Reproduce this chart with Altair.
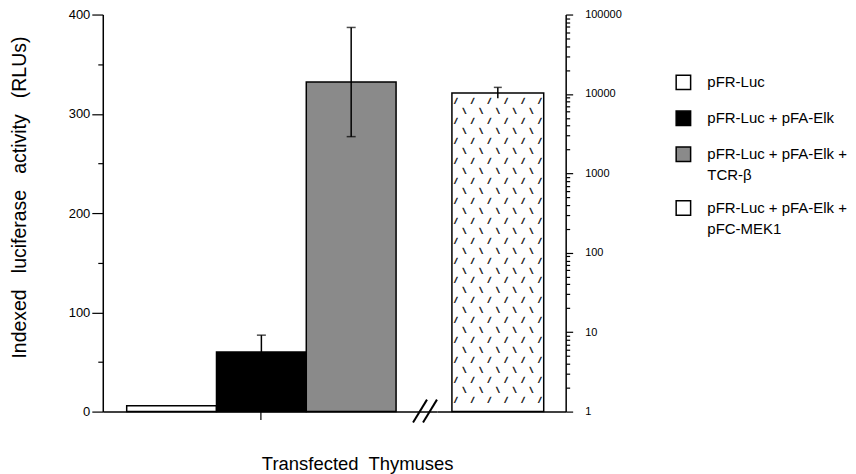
import altair as alt
import pandas as pd

# ---- data ----
categories = ["pFR-Luc", "pFR-Luc + pFA-Elk", "pFR-Luc + pFA-Elk + TCR-β", "pFR-Luc + pFA-Elk + pFC-MEK1"]
fills = ["#ffffff", "#000000", "#8a8a8a", "#ffffff"]

left_values = [6, 60, 332]          # linear axis (RLUs)
left_err_lo = [6, 43, 277]
left_err_hi = [6, 77, 387]

mek1_value = [10300]                # right (log) axis
mek1_lo = [8800]
mek1_hi = [12100]

left_ticks = [0, 50, 100, 150, 200, 250, 300, 350, 400]
log_major = [1, 10, 100, 1000, 10000, 100000]
log_ticks = [m * 10 ** d for d in range(5) for m in range(1, 10)] + [100000]

FONT = "Liberation Sans"
NB = "\u00a0"
GAP = NB + NB + " "

left_df = pd.DataFrame({
    "cat": categories[:3],
    "value": left_values,
    "lo": left_err_lo,
    "hi": left_err_hi,
})
left_err_df = left_df[left_df["hi"] > left_df["value"]]

right_df = pd.DataFrame({
    "cat": categories[3:],
    "value": mek1_value,
    "lo": mek1_lo,
    "hi": mek1_hi,
})

# texture for the hatched bar
row_a = ("/" + NB * 3) * 5 + "/"
row_b = (NB * 2 + "\\" + NB) * 5 + NB
right_df["pattern"] = "\n".join(row_a if i % 2 == 0 else row_b for i in range(31))

W1, W2, H = 335, 129, 398

color = alt.Color(
    "cat:N",
    scale=alt.Scale(domain=categories, range=fills),
    legend=alt.Legend(
        title=None,
        orient="none",
        legendX=574,
        legendY=60,
        symbolType="square",
        symbolSize=210,
        symbolStrokeColor="black",
        symbolStrokeWidth=1.5,
        labelFont=FONT,
        labelFontSize=15,
        labelColor="black",
        labelOffset=16,
        labelLimit=400,
        rowPadding=14,
        labelExpr="lastindexof(datum.label, ' + ') > 8 ? [slice(datum.label, 0, lastindexof(datum.label, ' + ') + 2), slice(datum.label, lastindexof(datum.label, ' + ') + 3)] : datum.label",
    ),
)

x_left = alt.X(
    "cat:N",
    scale=alt.Scale(domain=categories[:3], paddingInner=0, paddingOuter=0.361, align=0.369),
    axis=alt.Axis(
        values=[categories[1]],
        labels=False,
        tickSize=8,
        tickColor="black",
        tickWidth=1.2,
        domainColor="black",
        domainWidth=1.5,
        title="Transfected" + NB + " Thymuses",
        titleFont=FONT,
        titleFontSize=18.5,
        titleFontWeight="normal",
        titleColor="black",
        titleX=255,
        titleY=58,
        titleAlign="center",
        titleBaseline="alphabetic",
    ),
)

y_left_scale = alt.Scale(domain=[0, 400], nice=False)
y_left = alt.Y(
    "value:Q",
    scale=y_left_scale,
    axis=alt.Axis(
        values=left_ticks,
        labelExpr="datum.value % 100 == 0 ? datum.label : ''",
        tickSize={"condition": {"test": "datum.value % 100 == 0", "value": 11}, "value": 5},
        tickColor="black",
        tickWidth=1.2,
        domainColor="black",
        domainWidth=1.5,
        grid=False,
        labelFont=FONT,
        labelFontSize=13,
        labelColor="black",
        labelPadding=2,
        title="Indexed" + GAP + "luciferase" + GAP + "activity" + GAP + "(RLUs)",
        titleFont=FONT,
        titleFontSize=19.5,
        titleFontWeight="normal",
        titleColor="black",
        titleAngle=270,
        titleX=-83,
        titleY=183,
        titleAlign="center",
        titleBaseline="middle",
    ),
)

left_bars = alt.Chart(left_df).mark_bar(stroke="black", strokeWidth=1.5, fillOpacity=1).encode(
    x=x_left, y=y_left, color=color
)
left_stem = alt.Chart(left_err_df).mark_rule(color="black", strokeWidth=1.5).encode(
    x=alt.X("cat:N"), y=alt.Y("lo:Q", scale=y_left_scale), y2="hi:Q"
)
left_cap_hi = alt.Chart(left_err_df).mark_tick(color="black", size=9, thickness=1.5).encode(
    x=alt.X("cat:N"), y=alt.Y("hi:Q", scale=y_left_scale)
)
left_cap_lo = alt.Chart(left_err_df).mark_tick(color="black", size=9, thickness=1.5).encode(
    x=alt.X("cat:N"), y=alt.Y("lo:Q", scale=y_left_scale)
)

one = pd.DataFrame({"k": [0]})
brk1 = alt.Chart(one).mark_rule(color="black", strokeWidth=2).encode(
    x=alt.value(W1 - 24), x2=alt.value(W1 - 10), y=alt.value(H + 11), y2=alt.value(H - 12)
)
brk2 = alt.Chart(one).mark_rule(color="black", strokeWidth=2).encode(
    x=alt.value(W1 - 14), x2=alt.value(W1), y=alt.value(H + 11), y2=alt.value(H - 12)
)

left = alt.layer(left_bars, left_stem, left_cap_hi, left_cap_lo, brk1, brk2).properties(
    width=W1, height=H
)

x_right = alt.X(
    "cat:N",
    scale=alt.Scale(domain=categories[3:], paddingInner=0, paddingOuter=0.201, align=0.405),
    axis=alt.Axis(labels=False, ticks=False, domainColor="black", domainWidth=1.5, title=None),
)
y_right_scale = alt.Scale(type="log", domain=[1, 100000], nice=False)
major_test = "indexof([1, 10, 100, 1000, 10000, 100000], datum.value) >= 0"
y_right = alt.Y(
    "value:Q",
    scale=y_right_scale,
    axis=alt.Axis(
        orient="right",
        values=log_ticks,
        labelExpr=major_test + " ? format(datum.value, 'd') : ''",
        tickSize={"condition": {"test": major_test, "value": 7}, "value": 4},
        tickColor="black",
        tickWidth=1.2,
        domainColor="black",
        domainWidth=1.5,
        grid=False,
        labelFont=FONT,
        labelFontSize=11,
        labelColor="black",
        labelPadding=12,
        title=None,
    ),
)

right_bar = alt.Chart(right_df).mark_bar(stroke="black", strokeWidth=1.5, fillOpacity=1).encode(
    x=x_right, y=y_right, y2=alt.Y2(datum=1), color=color
)
right_tex = alt.Chart(right_df).mark_text(
    font="DejaVu Sans Mono", fontSize=7, fontWeight="bold", lineHeight=10,
    lineBreak="\n", align="center", baseline="top", dy=4,
    color="#222222", stroke="#222222", strokeWidth=0.5
).encode(x=alt.X("cat:N"), y=alt.Y("value:Q", scale=y_right_scale), text="pattern:N")
right_stem = alt.Chart(right_df).mark_rule(color="black", strokeWidth=1.5).encode(
    x=alt.X("cat:N"), y=alt.Y("lo:Q", scale=y_right_scale), y2="hi:Q"
)
right_cap_hi = alt.Chart(right_df).mark_tick(color="black", size=8, thickness=1.5).encode(
    x=alt.X("cat:N"), y=alt.Y("hi:Q", scale=y_right_scale)
)

right = alt.layer(right_bar, right_tex, right_stem, right_cap_hi).properties(width=W2, height=H)

chart = alt.hconcat(
    left, right, spacing=0, bounds="flush",
    padding={"left": 1, "top": 0, "right": 0, "bottom": 0},
).configure(
    view={"strokeWidth": 0},
    style={"guide-label": {"lineHeight": 21}},
)

chart.save("out.html", embed_options={"renderer": "svg", "actions": False})
